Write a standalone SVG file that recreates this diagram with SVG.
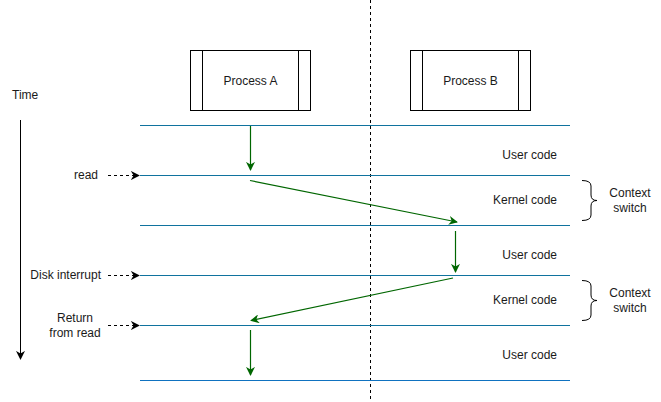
<svg xmlns="http://www.w3.org/2000/svg" width="661" height="402" viewBox="0 0 661 402">
<style>
text{font-family:"Liberation Sans",Arial,sans-serif;font-size:12px;fill:#1a1a1a}
.box{fill:#fff;stroke:#000;stroke-width:1}
.lane{stroke:#10739E;stroke-width:1.2;fill:none}
.g{stroke:#006600;stroke-width:1.2;fill:none;marker-end:url(#ag)}
.d{stroke:#000;stroke-width:1;stroke-dasharray:3 3;fill:none;marker-end:url(#ak)}
.brace{stroke:#000;stroke-width:1;fill:none}
</style>
<defs>
<marker id="ag" viewBox="0 0 10 10" refX="9" refY="5" markerWidth="9" markerHeight="9" markerUnits="userSpaceOnUse" orient="auto">
<path d="M0,0 L10,5 L0,10 L3,5 Z" fill="#006600"/>
</marker>
<marker id="ak" viewBox="0 0 10 10" refX="9" refY="5" markerWidth="9" markerHeight="9" markerUnits="userSpaceOnUse" orient="auto">
<path d="M0,0 L10,5 L0,10 L3,5 Z" fill="#000"/>
</marker>
</defs>
<rect width="661" height="402" fill="#fff"/>
<line x1="370.5" y1="0" x2="370.5" y2="402" stroke="#000" stroke-dasharray="3 3"/>
<g id="processA">
<rect class="box" x="190.5" y="50.5" width="120" height="60"/>
<line x1="202.5" y1="50.5" x2="202.5" y2="110.5" stroke="#000"/>
<line x1="298.5" y1="50.5" x2="298.5" y2="110.5" stroke="#000"/>
<text x="250.5" y="84.5" text-anchor="middle">Process A</text>
</g>
<g id="processB">
<rect class="box" x="410.5" y="50.5" width="120" height="60"/>
<line x1="422.5" y1="50.5" x2="422.5" y2="110.5" stroke="#000"/>
<line x1="518.5" y1="50.5" x2="518.5" y2="110.5" stroke="#000"/>
<text x="470.5" y="84.5" text-anchor="middle">Process B</text>
</g>
<g id="lanes">
<line class="lane" x1="140" y1="125.5" x2="570" y2="125.5"/>
<line class="lane" x1="140" y1="175.5" x2="570" y2="175.5"/>
<line class="lane" x1="140" y1="225.5" x2="570" y2="225.5"/>
<line class="lane" x1="140" y1="275.5" x2="570" y2="275.5"/>
<line class="lane" x1="140" y1="325.5" x2="570" y2="325.5"/>
<line class="lane" x1="140" y1="380.5" x2="570" y2="380.5" style="stroke:#0F72C0"/>
</g>
<g id="time">
<text x="12" y="99">Time</text>
<line x1="20.5" y1="120" x2="20.5" y2="359" stroke="#000" stroke-width="1" marker-end="url(#ak)"/>
</g>
<g id="leftLabels">
<text x="98" y="179" text-anchor="end">read</text>
<text x="101" y="279" text-anchor="end">Disk interrupt</text>
<text x="75" y="322" text-anchor="middle">Return</text>
<text x="75" y="337" text-anchor="middle">from read</text>
</g>
<g id="rightLabels">
<text x="557" y="159" text-anchor="end">User code</text>
<text x="557" y="204" text-anchor="end">Kernel code</text>
<text x="557" y="259" text-anchor="end">User code</text>
<text x="557" y="304" text-anchor="end">Kernel code</text>
<text x="557" y="359" text-anchor="end">User code</text>
</g>
<g id="contextSwitch1">
<path class="brace" d="M582,180.5 Q591,180.5 591,186 L591,195 Q591,200.5 597,200.5 Q591,200.5 591,206 L591,215 Q591,220.5 582,220.5"/>
<text x="630" y="197" text-anchor="middle">Context</text>
<text x="630" y="212" text-anchor="middle">switch</text>
</g>
<g id="contextSwitch2">
<path class="brace" d="M582,280.5 Q591,280.5 591,286 L591,295 Q591,300.5 597,300.5 Q591,300.5 591,306 L591,315 Q591,320.5 582,320.5"/>
<text x="630" y="297" text-anchor="middle">Context</text>
<text x="630" y="312" text-anchor="middle">switch</text>
</g>
<g id="connectors">
<path class="d" d="M108,175.5 L139,175.5"/>
<path class="d" d="M108,275.5 L139,275.5"/>
<path class="d" d="M108,325.5 L139,325.5"/>
<path class="g" d="M250.5,126 L250.5,170"/>
<path class="g" d="M250,180.5 L457,222"/>
<path class="g" d="M455.5,231 L455.5,272"/>
<path class="g" d="M453,278 L251,320.5"/>
<path class="g" d="M250.5,330 L250.5,375"/>
</g>
</svg>
